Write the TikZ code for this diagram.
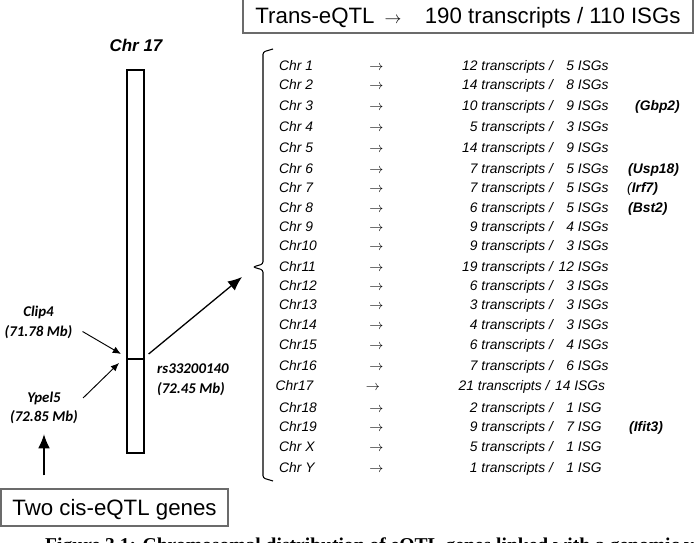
\documentclass[tikz,border=0pt]{standalone}
\usepackage{fontspec}
\setmainfont{Liberation Sans}
\newfontfamily\calibrifont{Carlito}
\newfontfamily\timesfont{Liberation Serif}
\usepackage{tikz}
\usetikzlibrary{arrows.meta,positioning}
\definecolor{boxgray}{rgb}{0.42,0.42,0.42}
\newcommand{\listsize}{\fontsize{11.8}{14}\selectfont}
\newcommand{\snpsize}{\calibrifont\bfseries\itshape\fontsize{12.7}{16.5}\selectfont}

\begin{document}
\begin{tikzpicture}[x=0.03cm,y=-0.03cm,
    bigbox/.style={draw=boxgray, line width=1.2pt, inner sep=0pt,
      font=\fontsize{19}{22}\selectfont, text height=13.6pt, text depth=0pt},
    snp/.style={font=\snpsize, inner sep=0pt, align=center},
    row/.style={font=\listsize\itshape, inner sep=0pt, anchor=base west},
    gene/.style={font=\listsize\bfseries\itshape, inner sep=0pt, anchor=base west},
    pointer/.style={-{Latex[length=7pt,width=6pt]}, line width=0.8pt},
    bigpointer/.style={-{Latex[length=12pt,width=10pt]}, line width=1.1pt}]
    \useasboundingbox (0,0) rectangle (695,543);
    \def\lab{279}
    \def\arr{376.5}
    \def\cnt{462}

    \node[bigbox, minimum width=13.5cm, minimum height=1.05cm] (trans) at (468,15.5)
      {Trans-eQTL\hspace{8.5pt}{\fontsize{15}{15}\selectfont$\rightarrow$}\hspace{20pt}190 transcripts / 110 ISGs};
    \node[bigbox, minimum width=6.81cm, minimum height=1.11cm] (cis) at (114.5,507.5) {Two cis-eQTL genes};

    \node[draw, line width=1.1pt, inner sep=0pt, minimum width=0.51cm, minimum height=11.49cm] (chrom) at (135.5,261.5) {};
    \coordinate (band) at (135.5,359);
    \draw[line width=1.1pt] (chrom.west |- band) -- (chrom.east |- band);
    \node[font=\bfseries\itshape\fontsize{14.5}{17}\selectfont, anchor=base, inner sep=0pt] (chr17) at (136,52) {Chr 17};

    \node[snp] (clip) at (38.5,322.5) {Clip4\\(71.78 Mb)};
    \node[snp] (ypel) at (44,408) {Ypel5\\(72.85 Mb)};
    \node[snp, align=left, anchor=north west] (rs) at (157,364) {rs33200140\\(72.45 Mb)};

    \coordinate (clipend) at (121,354);
    \coordinate (ypelend) at (119,363);
    \coordinate (bracemid) at (253,267);
    \coordinate (transend) at (242,277);
    \draw[pointer] ([shift={(10,9)}]clip.east) -- (clipend);
    \draw[pointer] ([shift={(5,-10)}]ypel.east) -- (ypelend);
    \draw[bigpointer] ([yshift=11pt]ypel.south |- cis.north) -- ([yshift=-8.5pt]ypel.south);
    \draw[bigpointer] ([shift={(4,-5)}]chrom.east |- band) -- (transend);

    \draw[line width=0.9pt, rounded corners=2pt] (273,49) -- (263,52) -- (263,264) -- (bracemid)
      -- (263,270) -- (263,478) -- (273,481);

    \foreach \y/\chr/\n/\m/\s/\dx [count=\i] in {66/Chr 1/12/5/ISGs/0, 85/Chr 2/14/8/ISGs/0,
        106/Chr 3/10/9/ISGs/0, 127/Chr 4/5/3/ISGs/0, 148/Chr 5/14/9/ISGs/0, 169/Chr 6/7/5/ISGs/0,
        188/Chr 7/7/5/ISGs/0, 208/Chr 8/6/5/ISGs/0, 227/Chr 9/9/4/ISGs/0, 246/Chr10/9/3/ISGs/0,
        267/Chr11/19/12/ISGs/0, 286/Chr12/6/3/ISGs/0, 305/Chr13/3/3/ISGs/0, 325/Chr14/4/3/ISGs/0,
        345/Chr15/6/4/ISGs/0, 366/Chr16/7/6/ISGs/0, 386/Chr17/21/14/ISGs/-3.5, 408/Chr18/2/1/ISG/0,
        427/Chr19/9/7/ISG/0, 447/Chr X/5/1/ISG/0, 467/Chr Y/1/1/ISG/0} {
      \node[row] (lab\i) at (\lab+\dx,\y+5) {\chr};
      \node[row, anchor=base] (arr\i) at (\arr+\dx,\y+5) {$\rightarrow$};
      \node[row] (cnt\i) at (\cnt+\dx,\y+5)
        {\makebox[1.112em][r]{\n} transcripts / \makebox[1.25em][r]{\m} \s};
    }

    \node[gene] (gbp) at (635,111) {(Gbp2)};
    \node[gene] (usp) at (628,174) {(Usp18)};
    \node[gene] (irf) at (627,193) {{\mdseries(}Irf7)};
    \node[gene] (bst) at (628,213) {(Bst2)};
    \node[gene] (ifit) at (629,432) {(Ifit3)};

    \node[font=\timesfont\bfseries\fontsize{16.7}{19}\selectfont, anchor=base west, inner sep=0pt] (caption)
      at (45,551) {Figure 3.1: Chromosomal distribution of eQTL genes linked with a genomic variant};
\end{tikzpicture}
\end{document}
